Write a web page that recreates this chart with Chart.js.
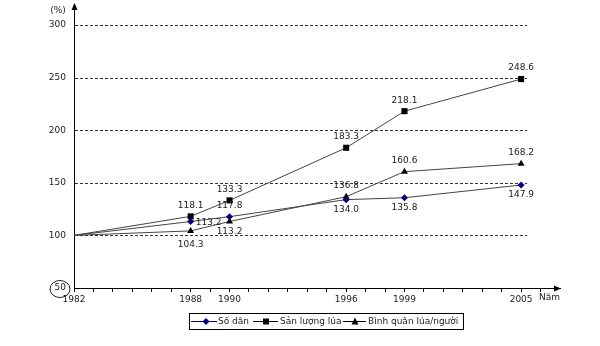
<!DOCTYPE html>
<html>
<head>
<meta charset="utf-8">
<script src="https://cdn.jsdelivr.net/npm/chart.js@4"></script>
<style>
html,body{margin:0;padding:0;background:#fff;}
#wrap{width:600px;height:346px;}
</style>
</head>
<body>
<div id="wrap"><canvas id="c" width="600" height="346"></canvas></div>
<script>
// ---- data ----
const years = [1982, 1988, 1990, 1996, 1999, 2005];
const soDan = [100, 113.2, 117.8, 134.0, 135.8, 147.9];
const sanLuongLua = [100, 118.1, 133.3, 183.3, 218.1, 248.6];
const binhQuan = [100, 104.3, 113.2, 136.8, 160.6, 168.2];
const yTicks = [50, 100, 150, 200, 250, 300];
const xTickLabels = [1982, 1988, 1990, 1996, 1999, 2005];
const seriesNames = ['Số dân', 'Sản lượng lúa', 'Bình quân lúa/người'];

// label placement (style, not data)
const placeSoDan = ['none', 'right', 'above', 'below', 'below', 'below'];
const placeSL = ['none', 'above', 'above', 'above', 'above', 'above'];
const placeBQ = ['none', 'below2', 'below', 'above', 'above', 'above'];

const FONT = 'DejaVu Sans';
Chart.defaults.font.family = FONT;
Chart.defaults.font.size = 9;
Chart.defaults.color = '#222';

function pts(vals) { return years.map((y, i) => ({ x: y, y: vals[i] })); }
const hidefirst = (r) => years.map((y, i) => i === 0 ? 0 : r);

const extras = {
  id: 'extras',
  beforeDatasetsDraw(chart) {
    const ctx = chart.ctx, xs = chart.scales.x, ys = chart.scales.y;
    const x0 = chart.chartArea.left, x1 = xs.getPixelForValue(2005) + 6;
    ctx.save();
    ctx.strokeStyle = '#333';
    ctx.lineWidth = 1;
    ctx.setLineDash([3, 2]);
    yTicks.forEach(v => {
      if (v === 50) return;
      const y = Math.round(ys.getPixelForValue(v)) + 0.5;
      ctx.beginPath(); ctx.moveTo(x0 + 1, y); ctx.lineTo(x1, y); ctx.stroke();
    });
    ctx.restore();
  },
  afterDraw(chart) {
    const ctx = chart.ctx, xs = chart.scales.x, ys = chart.scales.y;
    const ca = chart.chartArea;
    ctx.save();
    // y axis extension + arrow
    const ax = Math.round(ca.left) + 0.5;
    ctx.strokeStyle = '#000'; ctx.fillStyle = '#000'; ctx.lineWidth = 1;
    ctx.beginPath(); ctx.moveTo(ax, ca.top); ctx.lineTo(ax, 8); ctx.stroke();
    ctx.beginPath(); ctx.moveTo(ax, 3); ctx.lineTo(ax - 3, 10); ctx.lineTo(ax + 3, 10); ctx.closePath(); ctx.fill();
    // x axis arrow
    const ay = Math.round(ca.bottom) + 0.5;
    ctx.beginPath(); ctx.moveTo(ca.right + 1, ay); ctx.lineTo(ca.right - 6, ay - 3); ctx.lineTo(ca.right - 6, ay + 3); ctx.closePath(); ctx.fill();
    // axis titles
    ctx.font = '9px ' + FONT;
    ctx.fillStyle = '#222';
    ctx.textAlign = 'center'; ctx.textBaseline = 'middle';
    ctx.fillText('(%)', 58, 11);
    ctx.textAlign = 'left';
    ctx.fillText('Năm', 539, 298);
    // circle around 50
    ctx.strokeStyle = '#222';
    ctx.beginPath(); ctx.ellipse(60, 289, 10, 8.5, 0, 0, Math.PI * 2); ctx.stroke();

    // data labels
    ctx.font = '9px ' + FONT;
    ctx.fillStyle = '#222';
    ctx.textAlign = 'center'; ctx.textBaseline = 'middle';
    chart.data.datasets.forEach((ds, di) => {
      const meta = chart.getDatasetMeta(di);
      ds.data.forEach((p, i) => {
        const pl = ds.place[i];
        if (pl === 'none') return;
        const el = meta.data[i];
        let x = el.x, y = el.y;
        if (pl === 'above') y -= 11;
        else if (pl === 'below') y += 10;
        else if (pl === 'below2') y += 14;
        else if (pl === 'right') { x += 18; y += 1; }
        ctx.fillText(p.y.toFixed(1), x, y);
      });
    });

    // legend
    const L = 189.5, T = 313.5, R = 463.5, B = 329.5, cy = 321.5;
    ctx.strokeStyle = '#000'; ctx.lineWidth = 1;
    ctx.strokeRect(L, T, R - L, B - T);
    const items = [
      { x1: 191, x2: 217, m: 206, tx: 218, col: '#000080', mk: 'diamond' },
      { x1: 253, x2: 278, m: 266, tx: 280, col: '#000', mk: 'square' },
      { x1: 343, x2: 366, m: 355, tx: 368, col: '#000', mk: 'triangle' }
    ];
    ctx.textAlign = 'left'; ctx.textBaseline = 'middle';
    items.forEach((it, k) => {
      ctx.strokeStyle = it.col; ctx.fillStyle = it.col;
      ctx.beginPath(); ctx.moveTo(it.x1, cy); ctx.lineTo(it.x2, cy); ctx.stroke();
      ctx.beginPath();
      if (it.mk === 'diamond') { ctx.moveTo(it.m, cy - 3.5); ctx.lineTo(it.m + 3.5, cy); ctx.lineTo(it.m, cy + 3.5); ctx.lineTo(it.m - 3.5, cy); }
      else if (it.mk === 'square') { ctx.rect(it.m - 3, cy - 3, 6, 6); }
      else { ctx.moveTo(it.m, cy - 4); ctx.lineTo(it.m + 3.5, cy + 3); ctx.lineTo(it.m - 3.5, cy + 3); }
      ctx.closePath(); ctx.fill();
      ctx.fillStyle = '#222';
      ctx.fillText(seriesNames[k], it.tx, cy);
    });
    ctx.restore();
  }
};

new Chart(document.getElementById('c'), {
  type: 'line',
  data: {
    datasets: [
      { label: seriesNames[0], data: pts(soDan), place: placeSoDan, borderColor: '#444', borderWidth: 1,
        pointStyle: 'rectRot', pointRadius: hidefirst(3.5), pointBackgroundColor: '#000080', pointBorderColor: '#000080', pointBorderWidth: 0 },
      { label: seriesNames[1], data: pts(sanLuongLua), place: placeSL, borderColor: '#444', borderWidth: 1,
        pointStyle: 'rect', pointRadius: hidefirst(4.3), pointBackgroundColor: '#000', pointBorderColor: '#000', pointBorderWidth: 0 },
      { label: seriesNames[2], data: pts(binhQuan), place: placeBQ, borderColor: '#444', borderWidth: 1,
        pointStyle: 'triangle', pointRadius: hidefirst(4), pointBackgroundColor: '#000', pointBorderColor: '#000', pointBorderWidth: 0 }
    ]
  },
  options: {
    responsive: false,
    animation: false,
    layout: { padding: { left: 0, right: 40, top: 25, bottom: 38 } },
    plugins: { legend: { display: false }, tooltip: { enabled: false } },
    elements: { line: { tension: 0 } },
    scales: {
      x: {
        type: 'linear', min: 1982, max: 2007,
        afterBuildTicks(scale) {
          const t = [];
          for (let v = 1982; v <= 2006; v++) t.push({ value: v });
          scale.ticks = t;
        },
        afterFit(scale) { scale.height = 20; },
        ticks: {
          autoSkip: false, maxRotation: 0, padding: 2,
          callback: (v) => xTickLabels.includes(v) ? String(v) : ''
        },
        grid: { drawOnChartArea: false, drawTicks: true, tickLength: 4, color: '#000' },
        border: { display: true, color: '#000', width: 1 }
      },
      y: {
        min: 50, max: 300,
        afterBuildTicks(scale) { scale.ticks = yTicks.map(v => ({ value: v })); },
        afterFit(scale) { scale.width = 74; },
        ticks: { padding: 8, callback: (v) => String(v) },
        grid: { display: false, drawTicks: false },
        border: { display: true, color: '#000', width: 1 }
      }
    }
  },
  plugins: [extras]
});
</script>
</body>
</html>
